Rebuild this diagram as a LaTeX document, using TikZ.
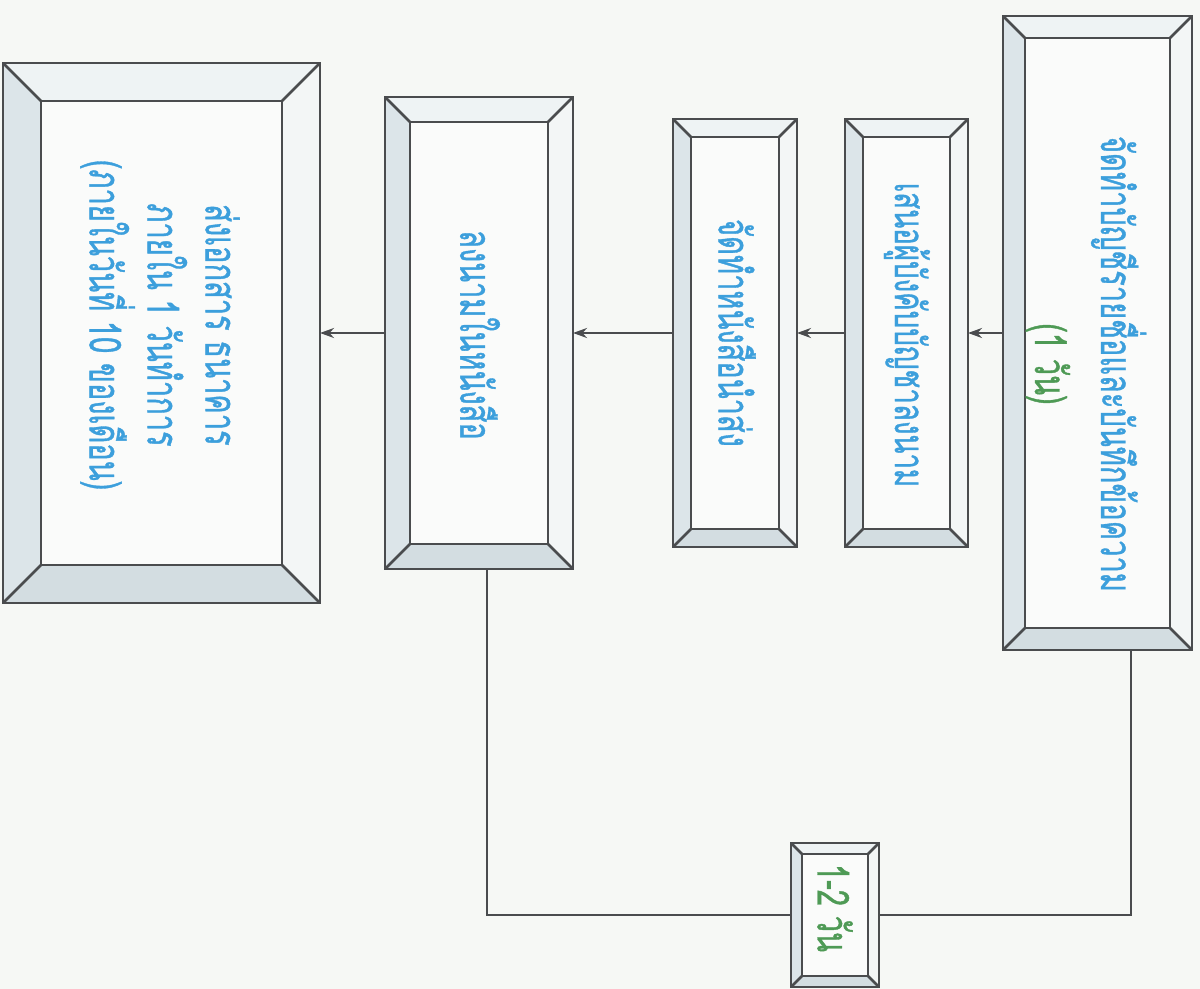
\documentclass[tikz,border=0pt]{standalone}
\usepackage{fontspec}
\newfontfamily\thai[Script=Thai,FakeStretch=0.66,FakeBold=0.8]{Loma}
\usetikzlibrary{arrows.meta,calc,fit}
\definecolor{bgc}{HTML}{F6F8F5}
\definecolor{edgec}{HTML}{4A4C4E}
\definecolor{topf}{HTML}{EEF3F4}
\definecolor{rightf}{HTML}{F3F6F6}
\definecolor{bottomf}{HTML}{D3DDE1}
\definecolor{leftf}{HTML}{DCE5E9}
\definecolor{innerf}{HTML}{FAFBFA}
\definecolor{bluetxt}{HTML}{3C9FDC}
\definecolor{greentxt}{HTML}{4E9A55}
\tikzset{
  edge/.style={draw=edgec,line width=1.3},
  conn/.style={draw=edgec,line width=1.2},
  arr/.style={conn,-{Stealth[length=7pt,width=5pt]}},
  txt/.style={rotate=-90,align=center,text=bluetxt,font=\thai\fontsize{22pt}{33pt}\selectfont,inner sep=0pt},
}
\newcommand\bevelbox[6]{%
  \path (#2,#3) coordinate (#1-a) (#4,#5) coordinate (#1-c);
  \node[inner sep=0pt,outer sep=0pt,fit=(#1-a)(#1-c)] (#1) {};
  \coordinate (#1-inw) at ($(#1.north west)+(#6,#6)$);
  \coordinate (#1-ine) at ($(#1.north east)+(-#6,#6)$);
  \coordinate (#1-ise) at ($(#1.south east)+(-#6,-#6)$);
  \coordinate (#1-isw) at ($(#1.south west)+(#6,-#6)$);
  \fill[topf] (#1.north west) -- (#1.north east) -- (#1-ine) -- (#1-inw) -- cycle;
  \fill[rightf] (#1.north east) -- (#1.south east) -- (#1-ise) -- (#1-ine) -- cycle;
  \fill[bottomf] (#1.south east) -- (#1.south west) -- (#1-isw) -- (#1-ise) -- cycle;
  \fill[leftf] (#1.south west) -- (#1.north west) -- (#1-inw) -- (#1-isw) -- cycle;
  \fill[innerf] (#1-inw) rectangle (#1-ise);
  \draw[edge] (#1.north west) rectangle (#1.south east);
  \draw[edge] (#1-inw) rectangle (#1-ise);
  \draw[edge] (#1.north west) -- (#1-inw) (#1.north east) -- (#1-ine)
              (#1.south east) -- (#1-ise) (#1.south west) -- (#1-isw);
}
\begin{document}
\begin{tikzpicture}[x=0.5pt,y=-0.5pt]
\fill[bgc] (0,0) rectangle (1200,989);
\useasboundingbox (0,0) rectangle (1200,989);
% boxes
\bevelbox{b1}{1003}{16}{1192}{650}{22}
\bevelbox{b2}{845}{119}{968}{547}{18}
\bevelbox{b3}{673}{119}{797}{547}{18}
\bevelbox{b4}{385}{97}{573}{569}{25}
\bevelbox{b5}{3}{63}{320}{603}{38}
\bevelbox{b6}{791}{843}{879}{987}{11}
% texts
\node[txt] (t1) at (1086,364) {จัดทำบัญชีรายชื่อและบันทึกข้อความ\\\textcolor{greentxt}{(1 วัน)}};
\node[txt,font=\thai\fontsize{21pt}{33pt}\selectfont] (t2) at (907,335) {เสนอผู้บังคับบัญชาลงนาม};
\node[txt] (t3) at (737,333) {จัดทำหนังสือนำส่ง};
\node[txt] (t4) at (480,335) {ลงนามในหนังสือ};
\node[txt,font=\thai\fontsize{22pt}{29pt}\selectfont] (t5) at (160,325) {ส่งเอกสาร ธนาคาร\\ภายใน 1 วันทำการ\\(ภายในวันที่ 10 ของเดือน)};
\node[txt,text=greentxt] (t6) at (835,908) {1-2 วัน};
% connectors
\draw[arr] (b1.west) -- (b2.east);
\draw[arr] (b2.west) -- (b3.east);
\draw[arr] (b3.west) -- (b4.east);
\draw[arr] (b4.west) -- (b5.east);
\coordinate (k1) at (1131,915);
\coordinate (k2) at (487,915);
\draw[conn] (b1.south -| k1) -- (k1) -- (b6.east);
\draw[conn] (b6.west) -- (k2) -- (k2 |- b4.south);
\end{tikzpicture}
\end{document}
